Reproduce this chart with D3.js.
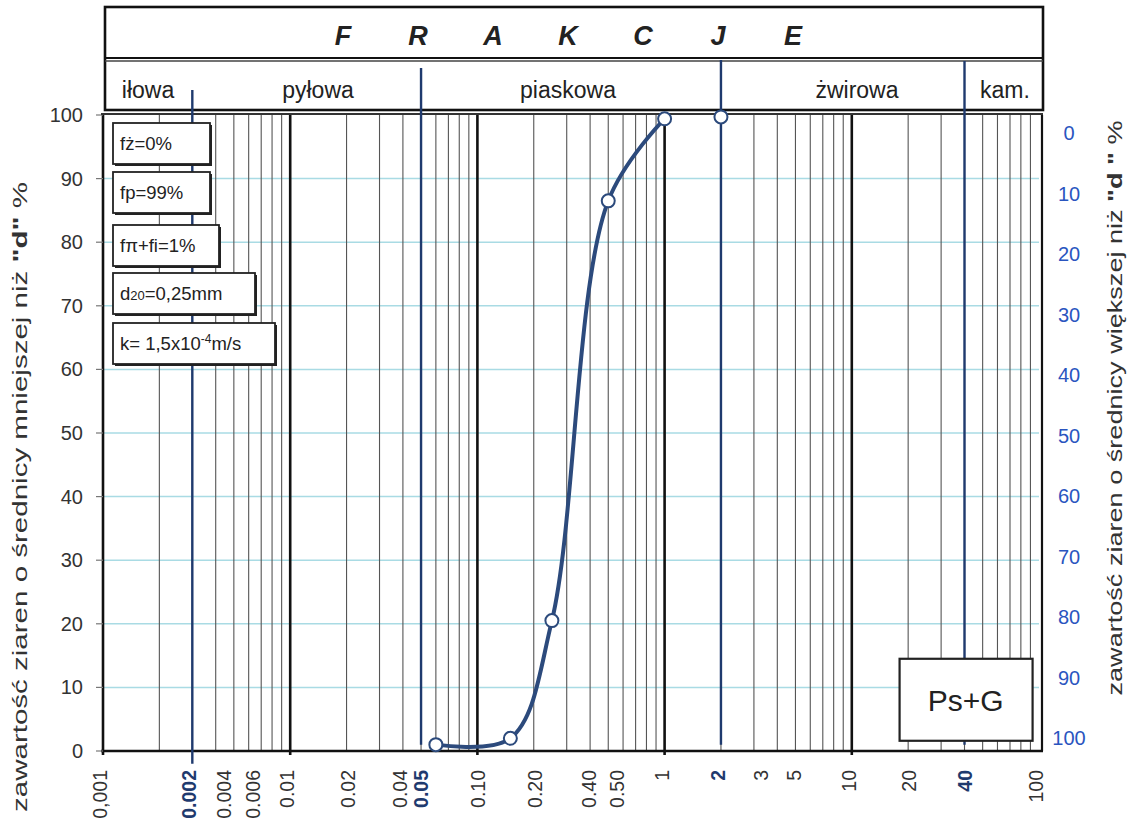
<!DOCTYPE html>
<html>
<head>
<meta charset="utf-8">
<script src="https://cdn.jsdelivr.net/npm/d3@7"></script>
<style>
  body { margin: 0; background: #fff; }
  text { font-family: "Liberation Sans", Arial, sans-serif; }
</style>
</head>
<body>
<div id="chart"></div>
<script>
// grain size data (d in mm, % passing)
var sieveD = [0.06, 0.15, 0.25, 0.5, 1.0];
var passing = [1, 2, 20.5, 86.5, 99.4];
var extraD = [2];
var extraPassing = [99.7];

// x tick labels and where they sit on the log axis
var xTickLabels = ["0,001", "0.002", "0.004", "0.006", "0.01", "0.02", "0.04", "0.05", "0.10", "0.20", "0.40", "0.50", "1", "2", "3", "5", "10", "20", "40", "100"];
var xTickAt = [0.001, 0.003, 0.0046, 0.0066, 0.01, 0.021, 0.04, 0.052, 0.105, 0.21, 0.41, 0.58, 1, 2, 3.4, 5.1, 10, 21, 42, 100];
var xTickBold = ["0.002", "0.05", "2", "40"];

// fraction boundaries (position on the axis as drawn)
var boundaryAt = [0.003, 0.05, 2, 40];

var yTicks = [0, 10, 20, 30, 40, 50, 60, 70, 80, 90, 100];
var fractionNames = ["iłowa", "pyłowa", "piaskowa", "żwirowa", "kam."];
var headerLetters = ["F", "R", "A", "K", "C", "J", "E"];

var infoLines = ["fż=0%", "fp=99%", "fπ+fi=1%", "d20=0,25mm", "k= 1,5x10-4m/s"];
var soilName = "Ps+G";

// ------------------------------------------------------------
var W = 1131, H = 826;
var svg = d3.select("#chart").append("svg")
  .attr("width", W).attr("height", H);

var x = d3.scaleLog().domain([0.001, 100]).range([103, 1039]);
var y = d3.scaleLinear().domain([0, 100]).range([751, 115]);
var yR = d3.scaleLinear().domain([0, 100]).range([133, 738]);

var navy = "#1f3a6e";
var lineBlue = "#2c4a7c";

// horizontal grid (light cyan)
svg.append("g").selectAll("line")
  .data(yTicks.filter(d => d > 0 && d < 100))
  .enter().append("line")
    .attr("x1", x(0.001)).attr("x2", x(100))
    .attr("y1", d => y(d)).attr("y2", d => y(d))
    .attr("stroke", "#a9dbe4").attr("stroke-width", 1.5);

// vertical log grid
var minor = [];
[0.001, 0.01, 0.1, 1, 10].forEach(function (dec) {
  for (var k = 2; k <= 9; k++) minor.push(dec * k);
});
svg.append("g").selectAll("line")
  .data(minor)
  .enter().append("line")
    .attr("x1", d => x(d)).attr("x2", d => x(d))
    .attr("y1", y(100)).attr("y2", y(0))
    .attr("stroke", "#555").attr("stroke-width", 1.1);

svg.append("g").selectAll("line")
  .data([0.01, 0.1, 1, 10])
  .enter().append("line")
    .attr("x1", d => x(d)).attr("x2", d => x(d))
    .attr("y1", y(100)).attr("y2", y(0) + 4)
    .attr("stroke", "#111").attr("stroke-width", 2.6);

// plot frame
svg.append("line").attr("x1", x(0.001)).attr("x2", x(0.001))
  .attr("y1", y(100)).attr("y2", y(0) + 4)
  .attr("stroke", "#111").attr("stroke-width", 2.6);
svg.append("line").attr("x1", x(100) + 3).attr("x2", x(100) + 3)
  .attr("y1", y(100)).attr("y2", y(0))
  .attr("stroke", "#111").attr("stroke-width", 2.2);
svg.append("line").attr("x1", x(0.001) - 2).attr("x2", x(100) + 4)
  .attr("y1", y(0)).attr("y2", y(0))
  .attr("stroke", "#111").attr("stroke-width", 2.6);

// left ticks
svg.append("g").selectAll("line")
  .data(yTicks)
  .enter().append("line")
    .attr("x1", x(0.001) - 7).attr("x2", x(0.001))
    .attr("y1", d => y(d)).attr("y2", d => y(d))
    .attr("stroke", "#777").attr("stroke-width", 1.2);

// header box
var hx0 = 105, hx1 = 1043;
svg.append("rect").attr("x", hx0).attr("y", 7).attr("width", hx1 - hx0).attr("height", 103)
  .attr("fill", "none").attr("stroke", "#111").attr("stroke-width", 2.6);
svg.append("line").attr("x1", hx0).attr("x2", hx1).attr("y1", 58).attr("y2", 58)
  .attr("stroke", "#111").attr("stroke-width", 2.2);
svg.append("line").attr("x1", hx0).attr("x2", hx1).attr("y1", 61).attr("y2", 61)
  .attr("stroke", "#444").attr("stroke-width", 1.6);
svg.append("line").attr("x1", hx0 - 4).attr("x2", hx1).attr("y1", 114).attr("y2", 114)
  .attr("stroke", "#333").attr("stroke-width", 2);

svg.append("g").selectAll("text")
  .data(headerLetters)
  .enter().append("text")
    .attr("x", (d, i) => 343 + i * 75)
    .attr("y", 45)
    .attr("text-anchor", "middle")
    .attr("font-size", 27).attr("font-weight", "bold").attr("font-style", "italic")
    .attr("fill", "#222")
    .text(d => d);

// fraction names
var nameX = [148, 318, 568, 857, 1005];
svg.append("g").selectAll("text")
  .data(fractionNames)
  .enter().append("text")
    .attr("x", (d, i) => nameX[i])
    .attr("y", 98)
    .attr("text-anchor", "middle")
    .attr("font-size", 23)
    .attr("fill", "#222")
    .text(d => d);

// boundary lines
var bTop = [90, 68, 60, 61];
var bBot = [y(-2), y(1), y(1), y(1)];
svg.append("g").selectAll("line")
  .data(boundaryAt)
  .enter().append("line")
    .attr("x1", d => x(d)).attr("x2", d => x(d))
    .attr("y1", (d, i) => bTop[i]).attr("y2", (d, i) => bBot[i])
    .attr("stroke", navy).attr("stroke-width", 2.4);

// left y labels
svg.append("g").selectAll("text")
  .data(yTicks)
  .enter().append("text")
    .attr("x", 83).attr("y", d => y(d)).attr("dy", "0.35em")
    .attr("text-anchor", "end")
    .attr("font-size", 20).attr("fill", "#333")
    .text(d => d);

// right y labels (reversed)
svg.append("g").selectAll("text")
  .data(yTicks)
  .enter().append("text")
    .attr("x", 1069).attr("y", d => yR(d)).attr("dy", "0.35em")
    .attr("text-anchor", "middle")
    .attr("font-size", 20).attr("fill", "#2a55bf")
    .text(d => d);

// x labels (rotated)
svg.append("g").selectAll("text")
  .data(xTickLabels)
  .enter().append("text")
    .attr("transform", (d, i) => "translate(" + (x(xTickAt[i]) + 4) + ",770) rotate(-90)")
    .attr("text-anchor", "end")
    .attr("font-size", 19.5)
    .attr("font-weight", d => xTickBold.indexOf(d) >= 0 ? "bold" : "normal")
    .attr("fill", d => xTickBold.indexOf(d) >= 0 ? navy : "#333")
    .text(d => d);

// axis titles
var lt = svg.append("text")
  .attr("transform", "translate(27,497) rotate(-90)")
  .attr("text-anchor", "middle").attr("font-size", 21).attr("fill", "#333")
  .attr("textLength", 630).attr("lengthAdjust", "spacingAndGlyphs");
lt.append("tspan").text("zawartość ziaren o średnicy  mniejszej niż  ");
lt.append("tspan").attr("font-weight", "bold").text("\"d\"");
lt.append("tspan").text("  %");

var rt = svg.append("text")
  .attr("transform", "translate(1122,408) rotate(-90)")
  .attr("text-anchor", "middle").attr("font-size", 21).attr("fill", "#333")
  .attr("textLength", 575).attr("lengthAdjust", "spacingAndGlyphs");
rt.append("tspan").text("zawartość ziaren o średnicy większej niż ");
rt.append("tspan").attr("font-weight", "bold").text("\"d \"");
rt.append("tspan").text("  %");

// info boxes
var boxW = [97, 97, 106, 142, 162];
var boxTop = [123, 172, 225, 273, 323];
var boxH = 41;
var boxes = svg.append("g").selectAll("g")
  .data(infoLines)
  .enter().append("g")
    .attr("transform", (d, i) => "translate(113," + boxTop[i] + ")");
boxes.append("rect")
  .attr("x", 2).attr("y", 2)
  .attr("width", (d, i) => boxW[i]).attr("height", boxH)
  .attr("fill", "#222");
boxes.append("rect")
  .attr("width", (d, i) => boxW[i]).attr("height", boxH)
  .attr("fill", "#fff").attr("stroke", "#222").attr("stroke-width", 1.8);
boxes.each(function (d) {
  var t = d3.select(this).append("text")
    .attr("x", 7).attr("y", 27).attr("font-size", 18.5).attr("fill", "#222");
  if (d.indexOf("d20") === 0) {
    t.append("tspan").text("d");
    t.append("tspan").attr("font-size", 13).text("20");
    t.append("tspan").text(d.slice(3));
  } else if (d.indexOf("10-4") > 0) {
    var p = d.indexOf("10-4") + 2;
    t.append("tspan").text(d.slice(0, p));
    t.append("tspan").attr("font-size", 12).attr("dy", -7).text("-4");
    t.append("tspan").attr("dy", 7).text(d.slice(p + 2));
  } else {
    t.text(d);
  }
});

// grading curve
var pts = sieveD.map((d, i) => [x(d), y(passing[i])]);
svg.append("path")
  .attr("d", d3.line().curve(d3.curveCatmullRom.alpha(0.5))(pts))
  .attr("fill", "none").attr("stroke", lineBlue).attr("stroke-width", 4);

var allD = sieveD.concat(extraD);
var allP = passing.concat(extraPassing);
svg.append("g").selectAll("circle")
  .data(allD)
  .enter().append("circle")
    .attr("cx", d => x(d))
    .attr("cy", (d, i) => y(allP[i]))
    .attr("r", 6.5)
    .attr("fill", "#fff").attr("stroke", lineBlue).attr("stroke-width", 2);

// soil type box
var sb = svg.append("g").attr("transform", "translate(" + x(18) + "," + y(14.5) + ")");
sb.append("rect").attr("width", 133).attr("height", 82)
  .attr("fill", "#fff").attr("stroke", "#222").attr("stroke-width", 2.2);
sb.append("text").attr("x", 66).attr("y", 52).attr("text-anchor", "middle")
  .attr("font-size", 30).attr("fill", "#222").text(soilName);
</script>
</body>
</html>
